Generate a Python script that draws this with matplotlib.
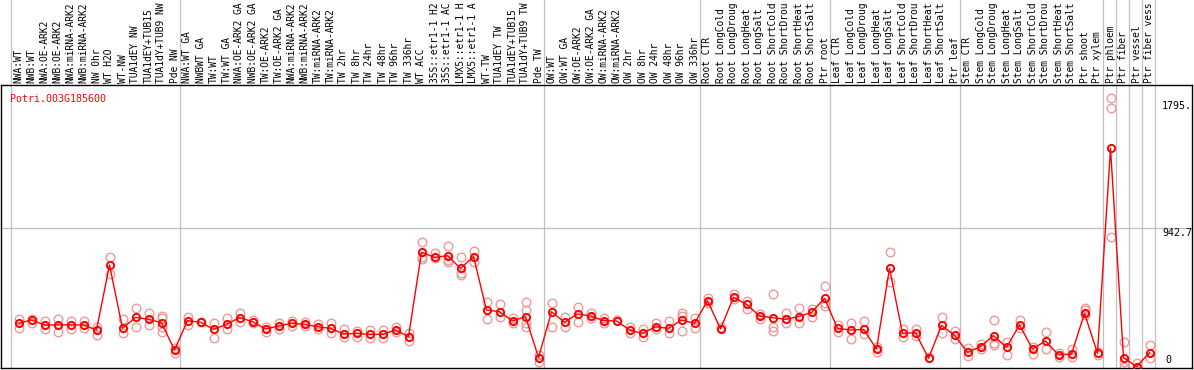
import matplotlib
matplotlib.use("Agg")
import matplotlib.pyplot as plt

plt.rcParams["font.family"] = ["DejaVu Sans Mono"]

GENE = "Potri.003G185600"

# sample names as the chart prints them (cut to 14 characters)
samples = [
    "NWA:WT", "NWB:WT", "NWA:OE-ARK2", "NWB:OE-ARK2", "NWA:miRNA-ARK2",
    "NWB:miRNA-ARK2", "NW 0hr", "WT H2O", "WT-NW", "TUA1dEY NW",
    "TUA1dEY+TUB15", "TUA1dY+TUB9 NW", "Pde NW",
    "NWA:WT GA", "NWBWT GA", "TW:WT", "TW:WT GA", "NWA:OE-ARK2 GA",
    "NWB:OE-ARK2 GA", "TW:OE-ARK2", "TW:OE-ARK2 GA", "NWA:miRNA-ARK2",
    "NWB:miRNA-ARK2", "TW:miRNA-ARK2", "TW:miRNA-ARK2", "TW 2hr", "TW 8hr",
    "TW 24hr", "TW 48hr", "TW 96hr", "TW 336hr", "WT ACC",
    "35S::etr1-1 H2", "35S::etr1-1 AC", "LMX5::etr1-1 H",
    "LMX5::etr1-1 A", "WT-TW", "TUA1dEY TW", "TUA1dEY+TUB15",
    "TUA1dY+TUB9 TW", "Pde TW",
    "OW:WT", "OW:WT GA", "OW:OE-ARK2", "OW:OE-ARK2 GA", "OW:miRNA-ARK2",
    "OW:miRNA-ARK2", "OW 2hr", "OW 8hr", "OW 24hr", "OW 48hr", "OW 96hr",
    "OW 336hr",
    "Root CTR", "Root LongCold", "Root LongDroug", "Root LongHeat",
    "Root LongSalt", "Root ShortCold", "Root ShortDrou", "Root ShortHeat",
    "Root ShortSalt", "Ptr root",
    "Leaf CTR", "Leaf LongCold", "Leaf LongDroug", "Leaf LongHeat",
    "Leaf LongSalt", "Leaf ShortCold", "Leaf ShortDrou", "Leaf ShortHeat",
    "Leaf ShortSalt", "Ptr leaf",
    "Stem CTR", "Stem LongCold", "Stem LongDroug", "Stem LongHeat",
    "Stem LongSalt", "Stem ShortCold", "Stem ShortDrou", "Stem ShortHeat",
    "Stem ShortSalt", "Ptr shoot", "Ptr xylem",
    "Ptr phloem", "Ptr fiber", "Ptr vessel", "Ptr fiber vess",
]

# index of the first sample of each group (gray separators)
group_starts = [0, 13, 41, 53, 63, 73, 84, 85, 86, 87, 88]

means = [
    301, 323, 290, 290, 290, 290, 256, 694, 267, 341, 328, 305, 121,
    319, 308, 260, 294, 339, 312, 263, 283, 301, 294, 278, 267, 229, 233,
    227, 227, 256, 211, 779, 745, 756, 671, 750, 391, 379, 317, 346, 70,
    379, 308, 364, 350, 319, 317, 256, 233, 278, 267, 323, 301,
    453, 263, 476, 429, 350, 339, 328, 346, 375, 469,
    267, 256, 260, 128, 671, 233, 238, 65, 287, 220,
    106, 144, 218, 139, 290, 128, 182, 88, 94, 368, 99,
    1479, 70, 9, 103,
]

replicates = [
    [328, 267], [301, 328], [316, 260], [332, 245], [316, 260], [319, 267],
    [278, 222], [750, 633], [328, 233], [402, 278], [373, 290],
    [350, 334, 274, 245], [132, 99],
    [341, 290], [312], [305, 200], [334, 260], [373, 312], [323, 301],
    [274, 245], [305, 260], [319, 283], [312, 283], [294, 260], [301, 238],
    [260, 211], [251, 211], [256, 200], [256, 200], [278, 245], [238, 182],
    [846, 750, 732], [772, 738], [822, 727, 716], [745, 637, 626],
    [788, 716], [444, 332], [433, 346], [334, 301], [444, 391, 301, 274],
    [88, 43],
    [435, 278], [341, 278], [413, 312], [368, 334], [334, 305], [323],
    [274, 238], [260, 211], [301, 260], [316, 238], [368, 350, 249],
    [334, 272],
    [469, 435], [274], [496, 462], [453, 395], [364, 328], [498, 274, 249],
    [368, 301], [402, 301], [397, 346], [552, 435, 417],
    [287, 245], [305, 193], [316, 227], [144, 110], [783, 581], [260, 207],
    [260, 216], [76], [341, 233], [251, 193],
    [132, 81], [162, 126], [323, 166, 155], [173, 88], [323, 267],
    [144, 94], [240, 126], [103, 76], [126, 76], [402, 391, 357], [108, 88],
    [1816, 1749, 880], [173, 43, 9], [32, 0], [155, 65],
]

W, H = 1194, 370
X0, PITCH = 18.5, 13.0
Y_TOP, Y_BOT = 85, 368
YMAX = 1905.6


def px_to_idx(px):
    return (px - X0) / PITCH


fig = plt.figure(figsize=(W / 100, H / 100), dpi=100)
ax = fig.add_axes([1 / W, (H - Y_BOT) / H, 1191 / W, (Y_BOT - Y_TOP) / H])
hax = fig.add_axes([1 / W, (H - Y_TOP) / H, 1191 / W, Y_TOP / H])

xlim = (px_to_idx(1), px_to_idx(1192))
for a in (ax, hax):
    a.set_xlim(*xlim)
    for b in group_starts:
        a.axvline(b - 0.58, color="#c0c0c0", lw=0.9, zorder=0)
ax.set_ylim(0, YMAX)
hax.set_ylim(0, Y_TOP)
hax.axis("off")

ax.axhline(942.7, color="#c0c0c0", lw=0.9, zorder=0)

# replicate points
for i, reps in enumerate(replicates):
    ax.plot([i] * len(reps), reps, "o", ms=6.2, mfc="none", mec="#ee9a9a",
            mew=1.0, zorder=2)

x = list(range(len(means)))
ax.plot(x, means, "-", color="#ff0000", lw=1.0, zorder=3)
ax.plot(x, means, "o", ms=5.2, mfc="none", mec="#ff0000", mew=1.4, zorder=4)

for s in ax.spines.values():
    s.set_color("black")
    s.set_linewidth(1.0)
ax.set_xticks([])
ax.set_yticks([])

for i, lab in enumerate(samples):
    hax.text(i, 2, lab, rotation=90, ha="center", va="bottom", fontsize=6.9,
             color="black")

ax.text(px_to_idx(10), YMAX - 60, GENE, color="#ff0000",
        fontsize=7.2, ha="left", va="top")
xr = px_to_idx(1162)
ax.text(xr, 1795, "1795.", fontsize=7.2, ha="left", va="top")
ax.text(xr, 942.7, "942.7", fontsize=7.2, ha="left", va="top")
ax.text(px_to_idx(1165), 20, "0", fontsize=7.2, ha="left", va="bottom")

fig.savefig("out.png", dpi=100)
